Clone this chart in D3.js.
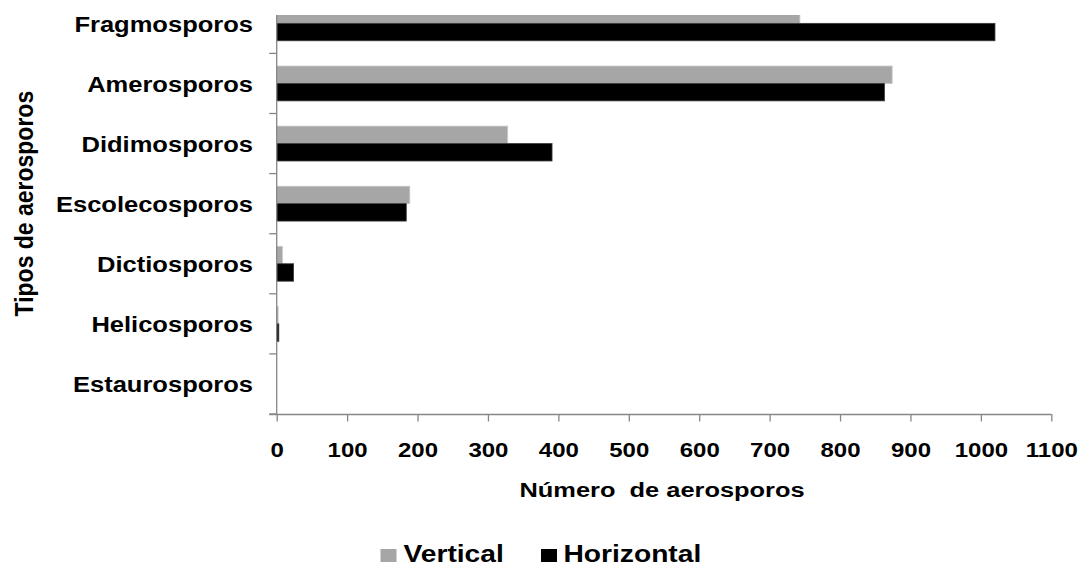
<!DOCTYPE html>
<html>
<head>
<meta charset="utf-8">
<script src="https://cdn.jsdelivr.net/npm/d3@7"></script>
<style>
  html, body { margin: 0; padding: 0; background: #fff; }
  svg { display: block; font-family: "Liberation Sans", Arial, sans-serif; }
</style>
</head>
<body>
<svg id="chart" width="1086" height="566"></svg>
<script>
// data
const categories = ['Fragmosporos', 'Amerosporos', 'Didimosporos', 'Escolecosporos', 'Dictiosporos', 'Helicosporos', 'Estaurosporos'];
const seriesNames = ['Vertical', 'Horizontal'];
const verticalValues = [743, 874, 328, 189, 8, 2, 0];
const horizontalValues = [1020, 863, 391, 184, 24, 3, 0];
const xTicks = [0, 100, 200, 300, 400, 500, 600, 700, 800, 900, 1000, 1100];

const colors = { Vertical: '#a6a6a6', Horizontal: '#000000' };
const strokes = { Vertical: '#c8c8c8', Horizontal: '#3a3a3a' };
const axisColor = '#868686';

const rows = categories.map((c, i) => ({
  category: c,
  Vertical: verticalValues[i],
  Horizontal: horizontalValues[i]
}));

const svg = d3.select('#chart');

// plot region (top of the original is cut off at y=15)
const plotLeft = 276.7, plotRight = 1051.3, plotTop = -6.7, plotBottom = 414, clipTop = 15;

const x = d3.scaleLinear().domain([0, 1100]).range([plotLeft, plotRight]);
const y = d3.scaleBand().domain(categories).range([plotTop, plotBottom])
  .paddingInner(0.42).paddingOuter(0.21);
const ySub = d3.scaleBand().domain(seriesNames).range([0, y.bandwidth()]);
const step = y.step();

svg.append('defs').append('clipPath').attr('id', 'plotClip')
  .append('rect').attr('x', 0).attr('y', clipTop).attr('width', 1086).attr('height', plotBottom - clipTop + 10);

// bars
const plot = svg.append('g').attr('clip-path', 'url(#plotClip)');
const groups = plot.selectAll('g.cat').data(rows).join('g')
  .attr('class', 'cat')
  .attr('transform', d => `translate(0,${y(d.category)})`);

groups.selectAll('rect')
  .data(d => seriesNames.map(k => ({ key: k, value: d[k] })))
  .join('rect')
  .attr('x', x(0))
  .attr('y', d => ySub(d.key))
  .attr('width', d => x(d.value) - x(0))
  .attr('height', ySub.bandwidth())
  .attr('fill', d => colors[d.key])
  .attr('stroke', d => d.value > 0 ? strokes[d.key] : 'none')
  .attr('stroke-width', 0.8);

// y axis: line + boundary ticks
const yAxis = svg.append('g').attr('clip-path', 'url(#plotClip)');
yAxis.append('line')
  .attr('x1', x(0)).attr('x2', x(0))
  .attr('y1', clipTop).attr('y2', plotBottom)
  .attr('stroke', axisColor).attr('stroke-width', 1.3);
yAxis.selectAll('line.tick')
  .data(categories.map((c, i) => plotTop + step * (i + 1)))
  .join('line')
  .attr('class', 'tick')
  .attr('x1', x(0) - 7.5).attr('x2', x(0))
  .attr('y1', d => d).attr('y2', d => d)
  .attr('stroke', axisColor).attr('stroke-width', 1.3);

// category labels (text in the reference is stretched sideways)
svg.append('g').selectAll('text')
  .data(categories)
  .join('text')
  .attr('transform', d => `translate(253,${y(d) + y.bandwidth() / 2 + 8.5}) scale(1.16,1)`)
  .attr('text-anchor', 'end')
  .attr('font-size', 22)
  .attr('font-weight', 'bold')
  .attr('fill', '#000')
  .text(d => d);

// x axis
const xAxis = svg.append('g').attr('transform', `translate(0,${plotBottom})`)
  .call(d3.axisBottom(x).tickValues(xTicks).tickSize(7.5).tickSizeOuter(0).tickFormat(d3.format('d')));
xAxis.select('.domain').attr('stroke', axisColor).attr('stroke-width', 1.3)
  .attr('d', `M${x(0) - 7.5},0.5H${plotRight}`);
xAxis.selectAll('.tick line').attr('stroke', axisColor).attr('stroke-width', 1.3);
xAxis.selectAll('.tick text')
  .attr('y', 0).attr('dy', null)
  .attr('transform', 'translate(0,43) scale(1.2,1)')
  .attr('font-family', '"Liberation Sans", Arial, sans-serif')
  .attr('font-size', 20)
  .attr('font-weight', 'bold')
  .attr('fill', '#000');

// axis titles
svg.append('text')
  .attr('transform', 'translate(519.5,497) scale(1.27,1)')
  .attr('font-size', 20)
  .attr('font-weight', 'bold')
  .style('white-space', 'pre')
  .text('Número  de aerosporos');

svg.append('text')
  .attr('transform', `translate(32.5,${(plotTop + plotBottom) / 2}) scale(1.15,1) rotate(-90)`)
  .attr('text-anchor', 'middle')
  .attr('font-size', 23)
  .attr('font-weight', 'bold')
  .text('Tipos de aerosporos');

// legend
const legendItems = [
  { key: 'Vertical', box: 380.5, text: 403.5 },
  { key: 'Horizontal', box: 541, text: 563.5 }
];
const legend = svg.append('g');
legend.selectAll('rect').data(legendItems).join('rect')
  .attr('x', d => d.box).attr('y', 549)
  .attr('width', 16).attr('height', 13)
  .attr('fill', d => colors[d.key]);
legend.selectAll('text').data(legendItems).join('text')
  .attr('transform', d => `translate(${d.text},561.5) scale(1.2,1)`)
  .attr('font-size', 23.5)
  .attr('font-weight', 'bold')
  .attr('fill', '#000')
  .text(d => d.key);
</script>
</body>
</html>
